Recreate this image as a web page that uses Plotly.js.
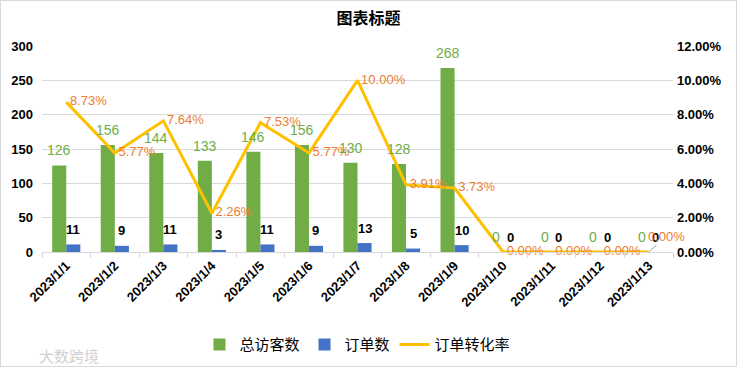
<!DOCTYPE html>
<html><head><meta charset="utf-8">
<script src="https://cdn.plot.ly/plotly-3.0.1.min.js"></script>
<style>
html,body{margin:0;padding:0;background:#fff;}
#chart{width:735px;height:365px;border:1px solid #d9d9d9;}
</style></head>
<body><div id="chart"></div>
<script>
const categories = ['2023/1/1','2023/1/2','2023/1/3','2023/1/4','2023/1/5','2023/1/6','2023/1/7','2023/1/8','2023/1/9','2023/1/10','2023/1/11','2023/1/12','2023/1/13'];
const visitors = [126,156,144,133,146,156,130,128,268,0,0,0,0];
const orders = [11,9,11,3,11,9,13,5,10,0,0,0,0];
const convRate = [0.0873,0.0577,0.0764,0.0226,0.0753,0.0577,0.1000,0.0391,0.0373,0,0,0,0];
const seriesNames = ['总访客数','订单数','订单转化率'];

const font = "'Liberation Sans', Arial, 'Noto Sans CJK SC', sans-serif";
const cjk = "'Noto Sans CJK SC', sans-serif";
const rateText = convRate.map((v,i)=> i===convRate.length-1 ? '' : ' '+(v*100).toFixed(2)+'%');

const traces = [
  {type:'bar', name:seriesNames[0], x:categories, y:visitors, marker:{color:'#70AD47'}, hoverinfo:'none'},
  {type:'bar', name:seriesNames[1], x:categories, y:orders, marker:{color:'#4472C4'}, hoverinfo:'none'},
  {type:'scatter', mode:'lines+text', name:seriesNames[2], x:categories, y:convRate, yaxis:'y2',
   line:{color:'#FFC000', width:3}, text:rateText, textposition:'middle right', cliponaxis:false,
   textfont:{color:'#ED7D31', size:13, family:font}, hoverinfo:'none'}
];

// value labels for bars (placed at each bar's value through the axis scales)
const barLabels = [];
categories.forEach((c,i)=>{
  barLabels.push({x:c, y:visitors[i], xref:'x', yref:'y', text:String(visitors[i]), showarrow:false,
    xshift:-7, yshift:15, xanchor:'center', yanchor:'middle', font:{color:'#70AD47', size:14, family:font}});
  barLabels.push({x:c, y:orders[i], xref:'x', yref:'y', text:'<b>'+orders[i]+'</b>', showarrow:false,
    xshift:7, yshift:15, xanchor:'center', yanchor:'middle', font:{color:'#000', size:13, family:font}});
});

const layout = {
  width:735, height:365,
  margin:{l:41, r:63, t:45, b:114, autoexpand:false},
  paper_bgcolor:'#fff', plot_bgcolor:'#fff',
  font:{family:font, color:'#000'},
  title:{text:'<b>图表标题</b>', x:0.5, xanchor:'center', y:0.953, yanchor:'middle', font:{size:16, color:'#000', family:cjk}},
  barmode:'group', bargap:0.42, bargroupgap:0,
  showlegend:true,
  legend:{orientation:'h', x:0.5, xanchor:'center', y:-0.45, yanchor:'middle', font:{size:15, color:'#000', family:cjk}, traceorder:'normal', itemwidth:30, tracegroupgap:0},
  xaxis:{type:'category', range:[-0.5, categories.length-0.5], tickangle:-45, tickfont:{size:13, weight:'bold', color:'#000'}, automargin:false,
    showline:true, linecolor:'#d9d9d9', linewidth:1, ticks:'outside', tickson:'boundaries', ticklen:5, tickcolor:'#d9d9d9',
    showgrid:false, fixedrange:true},
  yaxis:{range:[0,300], dtick:50, showgrid:true, gridcolor:'#d9d9d9', zeroline:false, showline:false, automargin:false,
    tickfont:{size:13, weight:'bold', color:'#000'}, ticklabelstandoff:8},
  yaxis2:{range:[0,0.12], dtick:0.02, tickformat:'.2%', overlaying:'y', side:'right', showgrid:false, zeroline:false, automargin:false,
    showline:false, tickfont:{size:13, weight:'bold', color:'#000'}, ticklabelstandoff:3},
  annotations: barLabels.concat([
    {x:categories[categories.length-1], y:convRate[convRate.length-1], xref:'x', yref:'y2',
     text:(convRate[convRate.length-1]*100).toFixed(2)+'%', showarrow:true, arrowhead:0, arrowwidth:1, arrowcolor:'#a6a6a6',
     ax:18, ay:-16, font:{color:'#ED7D31', size:13, family:font}, xanchor:'center', yanchor:'middle'},
    {xref:'paper', yref:'paper', x:-0.008, y:-0.5, xanchor:'left', yanchor:'middle', showarrow:false,
     text:'大数跨境', font:{size:15, color:'#d0d0d0', family:cjk}}
  ])
};

Plotly.newPlot('chart', traces, layout, {displayModeBar:false, staticPlot:true});
</script></body></html>
